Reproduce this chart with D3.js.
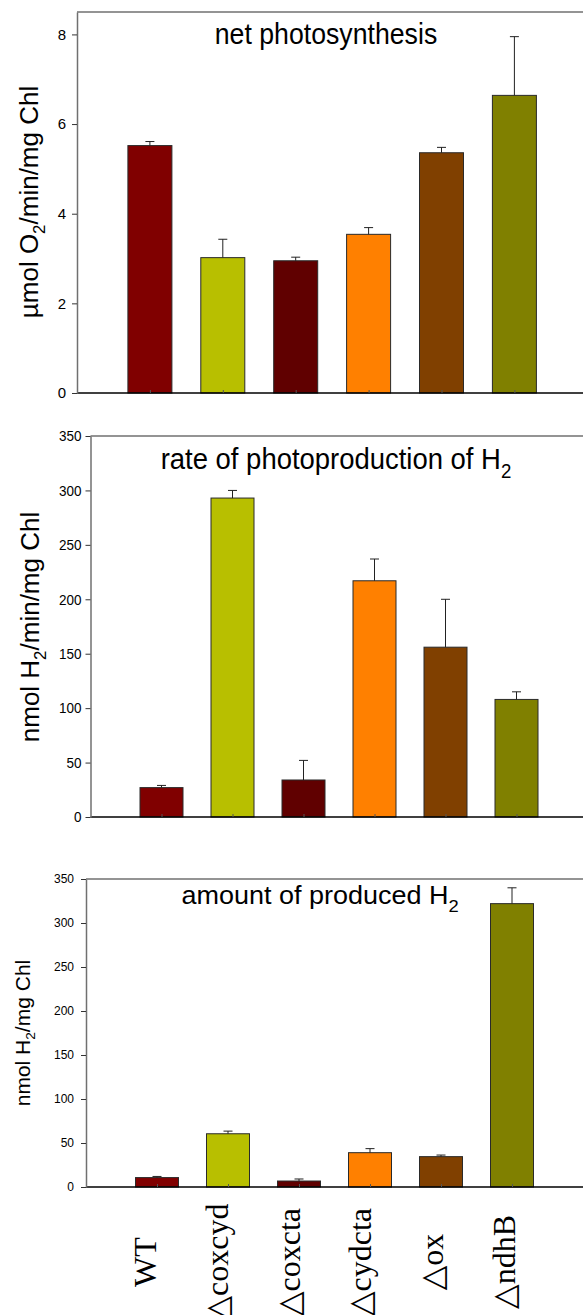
<!DOCTYPE html>
<html>
<head>
<meta charset="utf-8">
<script src="https://cdn.jsdelivr.net/npm/d3@7"></script>
<style>
  body { margin: 0; background: #fff; }
  svg { display: block; }
</style>
</head>
<body>
<div id="chart"></div>
<script>
// strains and bar colours, shared by all three panels
const strains = ['WT', '△coxcyd', '△coxcta', '△cydcta', '△ox', '△ndhB'];
const barColors = ['#800000', '#b8bf00', '#600000', '#ff8000', '#804000', '#808000'];

// net photosynthesis (µmol O2/min/mg Chl)
const photoValues = [5.52, 3.02, 2.95, 3.54, 5.36, 6.64];
const photoErrors = [0.09, 0.41, 0.08, 0.15, 0.12, 1.31];
const photoTicks = [0, 2, 4, 6, 8];

// rate of photoproduction of H2 (nmol H2/min/mg Chl)
const rateValues = [27, 293, 34, 217, 156, 108];
const rateErrors = [2, 7, 18, 20, 44, 7];
const rateTicks = [0, 50, 100, 150, 200, 250, 300, 350];

// amount of produced H2 (nmol H2/mg Chl)
const amountValues = [10.7, 60.5, 6.8, 39, 34.5, 322];
const amountErrors = [1.3, 3, 2.3, 4.6, 1.8, 18];
const amountTicks = [0, 50, 100, 150, 200, 250, 300, 350];

const W = 583, H = 1315;
const sans = 'Liberation Sans, Arial, sans-serif';

const svg = d3.select('#chart').append('svg')
  .attr('width', W)
  .attr('height', H);

// one panel = frame, y axis, bars with upward error bars, title, y label
function drawPanel(p) {
  const g = svg.append('g');
  const y = d3.scaleLinear().domain([0, p.yMax]).range([p.bottom, p.top]);
  const x = d3.scaleLinear().domain([0, 8]).range([p.left, p.left + 8 * p.step]);

  // top frame line
  g.append('line')
    .attr('x1', p.left).attr('x2', W + 20)
    .attr('y1', p.top).attr('y2', p.top)
    .attr('stroke', '#707070').attr('stroke-width', 1.5);

  // bars
  g.selectAll('.bar')
    .data(p.values)
    .enter()
    .append('rect')
    .attr('class', 'bar')
    .attr('x', (d, i) => x(i + 1) - p.barW / 2)
    .attr('y', d => y(d))
    .attr('width', p.barW)
    .attr('height', d => p.bottom - y(d))
    .attr('fill', (d, i) => barColors[i])
    .attr('stroke', '#2a2a2a')
    .attr('stroke-width', 1);

  // error bars (upper half only)
  const err = g.selectAll('.err')
    .data(p.values)
    .enter()
    .append('g')
    .attr('class', 'err')
    .attr('stroke', '#222')
    .attr('stroke-width', 1);
  err.append('line')
    .attr('x1', (d, i) => x(i + 1)).attr('x2', (d, i) => x(i + 1))
    .attr('y1', d => y(d))
    .attr('y2', (d, i) => y(d + p.errors[i]));
  err.append('line')
    .attr('x1', (d, i) => x(i + 1) - 4.5).attr('x2', (d, i) => x(i + 1) + 4.5)
    .attr('y1', (d, i) => y(d + p.errors[i]))
    .attr('y2', (d, i) => y(d + p.errors[i]));

  // x axis: black baseline with small inward ticks at bar centres
  const ax = g.append('g')
    .attr('transform', `translate(0,${p.bottom})`)
    .call(d3.axisBottom(x).tickValues([1, 2, 3, 4, 5, 6]).tickSize(-3).tickSizeOuter(0).tickFormat(''));
  ax.select('.domain').attr('d', `M${p.left},0H${W + 20}`).attr('stroke', '#000').attr('stroke-width', 1.5);
  ax.selectAll('.tick line').attr('stroke', '#555');

  // y axis
  const ay = g.append('g')
    .attr('transform', `translate(${p.left},0)`)
    .call(d3.axisLeft(y).tickValues(p.ticks).tickSize(5).tickSizeOuter(0).tickPadding(p.tickPad));
  ay.select('.domain').attr('stroke', '#707070').attr('stroke-width', 1.5);
  ay.selectAll('.tick line').attr('stroke', '#333');
  ay.selectAll('.tick text')
    .attr('font-family', sans)
    .attr('font-size', p.tickFont)
    .attr('fill', '#000')
    .attr('transform', `scale(${p.tickScale},1)`);

  // title, optionally squeezed horizontally
  const t = g.append('text')
    .attr('transform', `translate(${p.titleX},${p.titleY}) scale(${p.titleScale},1)`)
    .attr('text-anchor', 'middle')
    .attr('font-family', sans)
    .attr('font-size', p.titleFont)
    .attr('fill', '#000');
  t.append('tspan').text(p.title);
  if (p.titleSub) {
    t.append('tspan').attr('dy', p.titleFont * 0.3).attr('font-size', p.titleFont * 0.68).text(p.titleSub);
  }

  // rotated y label with subscript
  const yl = g.append('text')
    .attr('transform', `translate(${p.ylabX},${p.ylabY}) rotate(-90)`)
    .attr('text-anchor', 'middle')
    .attr('font-family', sans)
    .attr('font-size', p.ylabFont)
    .attr('fill', '#000');
  yl.append('tspan').text(p.ylab[0]);
  yl.append('tspan').attr('dy', p.ylabFont * 0.25).attr('font-size', p.ylabFont * 0.65).text(p.ylab[1]);
  yl.append('tspan').attr('dy', -p.ylabFont * 0.25).text(p.ylab[2]);

  return x;
}

drawPanel({
  values: photoValues, errors: photoErrors, ticks: photoTicks, yMax: 8.5,
  left: 77, top: 12, bottom: 393, step: 72.9, barW: 44,
  tickFont: 15, tickScale: 1, tickPad: 6,
  title: 'net photosynthesis', titleSub: '', titleX: 326, titleY: 44, titleFont: 29, titleScale: 0.92,
  ylab: ['µmol O', '2', '/min/mg Chl'], ylabX: 38, ylabY: 202, ylabFont: 26
});

drawPanel({
  values: rateValues, errors: rateErrors, ticks: rateTicks, yMax: 350,
  left: 90.5, top: 436, bottom: 817, step: 71, barW: 43,
  tickFont: 15, tickScale: 0.9, tickPad: 5,
  title: 'rate of photoproduction of H', titleSub: '2', titleX: 336, titleY: 469, titleFont: 30, titleScale: 0.915,
  ylab: ['nmol H', '2', '/min/mg Chl'], ylabX: 39, ylabY: 627, ylabFont: 26
});

drawPanel({
  values: amountValues, errors: amountErrors, ticks: amountTicks, yMax: 350,
  left: 86, top: 879, bottom: 1187, step: 71, barW: 43,
  tickFont: 12, tickScale: 1, tickPad: 7,
  title: 'amount of produced H', titleSub: '2', titleX: 320, titleY: 904, titleFont: 25, titleScale: 1.08,
  ylab: ['nmol H', '2', '/mg Chl'], ylabX: 30, ylabY: 1033, ylabFont: 21
});

// strain names under the last panel, rotated, in a serif face
const xl = d3.scalePoint().domain(strains).range([145, 504]);
svg.append('g')
  .selectAll('text')
  .data(strains)
  .enter()
  .append('text')
  .attr('transform', d => `translate(${xl(d)},1262) rotate(-90)`)
  .attr('text-anchor', 'middle')
  .attr('dominant-baseline', 'central')
  .attr('font-family', 'Liberation Serif, Times New Roman, DejaVu Serif, serif')
  .attr('font-size', 32)
  .attr('fill', '#000')
  .text(d => d);
</script>
</body>
</html>
